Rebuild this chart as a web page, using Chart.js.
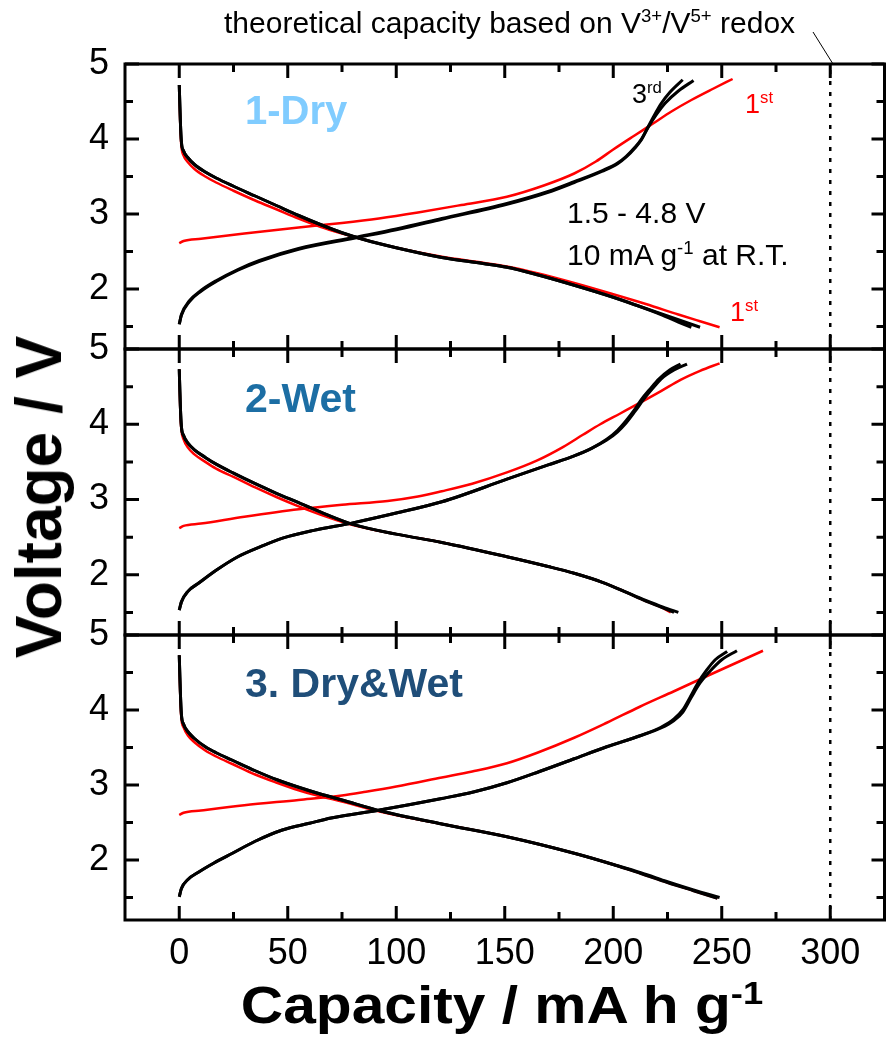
<!DOCTYPE html>
<html>
<head>
<meta charset="utf-8">
<script src="https://cdn.jsdelivr.net/npm/chart.js@4.4.1/dist/chart.umd.min.js"></script>
<style>
  body { margin: 0; background: #fff; width: 886px; height: 1043px; overflow: hidden; position: relative;
         font-family: "Liberation Sans", Arial, sans-serif; }
  .panel { position: absolute; left: 0; width: 886px; }
  .txt { position: absolute; white-space: nowrap; line-height: 1; }
  sup { font-size: 0.62em; vertical-align: 0.6em; line-height: 0; }
</style>
</head>
<body>

<div class="panel" id="p1" style="top:34px;height:345px"><canvas id="c1"></canvas></div>
<div class="panel" id="p2" style="top:319px;height:346px"><canvas id="c2"></canvas></div>
<div class="panel" id="p3" style="top:605px;height:375px"><canvas id="c3"></canvas></div>

<div class="txt" style="left:224px;top:8px;font-size:30px">theoretical capacity based on V<sup>3+</sup>/V<sup>5+</sup> redox</div>
<svg style="position:absolute;left:0;top:0" width="886" height="80"><line x1="813" y1="32" x2="833" y2="64" stroke="#000" stroke-width="1"/></svg>

<div class="txt" style="left:245px;top:90px;font-size:40px;font-weight:bold;color:#80ccff">1-Dry</div>
<div class="txt" style="left:245px;top:378px;font-size:41px;font-weight:bold;color:#1c6ea4">2-Wet</div>
<div class="txt" style="left:245px;top:663px;font-size:41px;font-weight:bold;color:#1f4e79">3. Dry&amp;Wet</div>

<div class="txt" style="left:632px;top:81px;font-size:27px">3<sup>rd</sup></div>
<div class="txt" style="left:745px;top:91px;font-size:27px;color:#ff0000">1<sup>st</sup></div>
<div class="txt" style="left:730px;top:299px;font-size:27px;color:#ff0000">1<sup>st</sup></div>
<div class="txt" style="left:567px;top:198px;font-size:30px">1.5 - 4.8 V</div>
<div class="txt" style="left:567px;top:240px;font-size:30px">10 mA g<sup>-1</sup> at R.T.</div>

<div class="txt" style="left:39px;top:497px;font-size:64px;font-weight:bold;transform:translate(-50%,-50%) rotate(-90deg)">Voltage / V</div>
<div class="txt" style="left:502px;top:1005px;font-size:51px;font-weight:bold;transform:translate(-50%,-50%) scaleX(1.15)">Capacity / mA h g<sup>-1</sup></div>

<script>
// axes
const xMin = -25, xMax = 325;
const yMin = 1.2, yMax = 5;
const xTickLabels = [0, 50, 100, 150, 200, 250, 300];
const xMinorTicks = [25, 75, 125, 175, 225, 275];
const yTickLabels = [2, 3, 4, 5];
const yMinorTicks = [1.5, 2.5, 3.5, 4.5];
const theoreticalCap = 300;

// ---- panel 1: 1-Dry ----
const dryCh1Cap = [0, 2, 10, 30, 55, 75, 92, 110, 130, 151, 168, 182, 192, 200, 210, 218, 227, 236, 246, 255];
const dryCh1V   = [2.61, 2.64, 2.67, 2.74, 2.82, 2.88, 2.94, 3.02, 3.12, 3.23, 3.38, 3.54, 3.70, 3.86, 4.05, 4.20, 4.37, 4.52, 4.67, 4.80];
const dryDis1Cap = [0, 0.5, 1, 2, 4, 7, 12, 17, 25, 35, 45, 55, 65, 75, 85, 100, 121, 140, 151, 165, 182, 200, 215, 230, 240, 249];
const dryDis1V   = [4.72, 4.15, 3.90, 3.78, 3.69, 3.60, 3.50, 3.42, 3.31, 3.18, 3.06, 2.94, 2.83, 2.74, 2.66, 2.55, 2.43, 2.35, 2.30, 2.21, 2.08, 1.93, 1.80, 1.66, 1.57, 1.49];
const dryCh2Cap = [0, 1, 4.6, 10, 17, 27, 37, 55, 81, 100, 121, 151, 170, 182, 195, 202, 206, 210, 213, 216, 219, 222, 226, 232];
const dryCh2V   = [1.53, 1.66, 1.84, 1.98, 2.11, 2.26, 2.38, 2.54, 2.69, 2.80, 2.94, 3.14, 3.30, 3.43, 3.58, 3.68, 3.77, 3.89, 4.00, 4.16, 4.32, 4.47, 4.62, 4.79];
const dryCh3Cap = [0, 1, 4.6, 10, 17, 27, 37, 55, 81, 100, 121, 151, 170, 182, 195, 202, 206, 210, 213, 216, 220, 224, 230, 237];
const dryCh3V   = [1.53, 1.65, 1.83, 1.97, 2.10, 2.25, 2.37, 2.53, 2.68, 2.79, 2.93, 3.13, 3.29, 3.42, 3.57, 3.67, 3.76, 3.88, 3.99, 4.15, 4.33, 4.48, 4.64, 4.78];
const dryDis2Cap = [0, 0.5, 1, 2, 4, 7, 12, 17, 25, 35, 45, 55, 65, 75, 85, 100, 121, 140, 151, 165, 182, 200, 211, 222, 230, 236];
const dryDis2V   = [4.72, 4.25, 3.96, 3.84, 3.75, 3.66, 3.56, 3.48, 3.37, 3.24, 3.11, 2.98, 2.86, 2.75, 2.66, 2.55, 2.42, 2.34, 2.29, 2.19, 2.05, 1.89, 1.78, 1.66, 1.56, 1.49];
const dryDis3Cap = [0, 0.5, 1, 2, 4, 7, 12, 17, 25, 35, 45, 55, 65, 75, 85, 100, 121, 140, 151, 165, 182, 200, 211, 222, 233, 240];
const dryDis3V   = [4.72, 4.25, 3.96, 3.84, 3.75, 3.66, 3.56, 3.48, 3.37, 3.24, 3.11, 2.98, 2.86, 2.75, 2.66, 2.55, 2.42, 2.34, 2.29, 2.19, 2.05, 1.89, 1.78, 1.67, 1.56, 1.49];

// ---- panel 2: 2-Wet ----
const wetCh1Cap = [0, 2, 10, 30, 55, 75, 96, 110, 121, 135, 151, 165, 177, 186, 194, 203, 212, 222, 231, 240, 249];
const wetCh1V   = [2.62, 2.65, 2.68, 2.77, 2.87, 2.93, 2.98, 3.04, 3.11, 3.21, 3.36, 3.52, 3.70, 3.86, 4.00, 4.14, 4.28, 4.44, 4.59, 4.71, 4.81];
const wetDis1Cap = [0, 0.5, 1, 2, 4, 7, 12, 17, 25, 35, 45, 55, 68, 80, 100, 121, 151, 170, 182, 195, 205, 215, 222, 226.5];
const wetDis1V   = [4.73, 4.15, 3.92, 3.80, 3.69, 3.60, 3.50, 3.41, 3.30, 3.16, 3.03, 2.91, 2.77, 2.66, 2.54, 2.43, 2.24, 2.11, 2.02, 1.90, 1.78, 1.65, 1.57, 1.50];
const wetCh2Cap = [0, 1, 4, 9, 17, 27, 38, 48, 62, 80, 100, 121, 151, 170, 182, 190, 197, 202, 206, 210, 213, 217, 221, 226, 231];
const wetCh2V   = [1.53, 1.64, 1.78, 1.89, 2.06, 2.24, 2.38, 2.49, 2.59, 2.69, 2.82, 2.97, 3.27, 3.46, 3.58, 3.68, 3.80, 3.92, 4.05, 4.20, 4.33, 4.47, 4.60, 4.72, 4.80];
const wetCh3Cap = [0, 1, 4, 9, 17, 27, 38, 48, 62, 80, 100, 121, 151, 170, 182, 190, 197, 202, 206, 210, 214, 218, 222, 228, 234];
const wetCh3V   = [1.53, 1.64, 1.78, 1.89, 2.06, 2.24, 2.38, 2.49, 2.59, 2.69, 2.82, 2.97, 3.27, 3.46, 3.58, 3.68, 3.79, 3.90, 4.02, 4.17, 4.33, 4.47, 4.60, 4.72, 4.80];
const wetDis2Cap = [0, 0.5, 1, 2, 4, 7, 12, 17, 25, 35, 45, 55, 68, 80, 100, 121, 151, 170, 182, 195, 205, 215, 222, 228];
const wetDis2V   = [4.73, 4.25, 3.97, 3.85, 3.75, 3.66, 3.56, 3.47, 3.35, 3.21, 3.08, 2.96, 2.80, 2.67, 2.54, 2.43, 2.24, 2.11, 2.02, 1.90, 1.78, 1.65, 1.57, 1.50];
const wetDis3Cap = [0, 0.5, 1, 2, 4, 7, 12, 17, 25, 35, 45, 55, 68, 80, 100, 121, 151, 170, 182, 195, 205, 215, 223, 230];
const wetDis3V   = [4.73, 4.25, 3.97, 3.85, 3.75, 3.66, 3.56, 3.47, 3.35, 3.21, 3.08, 2.96, 2.80, 2.67, 2.54, 2.43, 2.24, 2.11, 2.02, 1.90, 1.78, 1.66, 1.57, 1.50];

// ---- panel 3: 3. Dry&Wet ----
const dwCh1Cap = [0, 2, 10, 30, 55, 75, 86, 100, 121, 135, 151, 165, 182, 197, 212, 228, 243, 256, 269];
const dwCh1V   = [2.60, 2.63, 2.66, 2.73, 2.80, 2.86, 2.91, 2.98, 3.10, 3.18, 3.29, 3.43, 3.63, 3.83, 4.04, 4.25, 4.45, 4.62, 4.79];
const dwDis1Cap = [0, 0.5, 1, 2, 4, 7, 12, 17, 24.5, 35, 45, 55, 65, 75, 93.4, 121, 151, 182, 200, 212.7, 225, 237, 248];
const dwDis1V   = [4.73, 4.15, 3.88, 3.77, 3.66, 3.57, 3.46, 3.38, 3.28, 3.14, 3.03, 2.93, 2.85, 2.78, 2.64, 2.48, 2.31, 2.09, 1.94, 1.82, 1.70, 1.59, 1.49];
const dwCh2Cap = [0, 1, 4, 9, 16, 24.5, 35, 47.5, 60, 70, 93, 121, 136, 151, 166, 182, 197, 212.7, 222, 228, 232, 235.6, 239, 243, 247, 252.5];
const dwCh2V   = [1.51, 1.62, 1.74, 1.84, 1.96, 2.09, 2.25, 2.40, 2.49, 2.56, 2.67, 2.82, 2.91, 3.03, 3.18, 3.35, 3.51, 3.66, 3.77, 3.88, 4.00, 4.18, 4.36, 4.53, 4.67, 4.78];
const dwCh3Cap = [0, 1, 4, 9, 16, 24.5, 35, 47.5, 60, 70, 93, 121, 136, 151, 166, 182, 197, 212.7, 222, 228, 232, 236, 240, 245, 250, 257];
const dwCh3V   = [1.51, 1.62, 1.74, 1.84, 1.96, 2.09, 2.25, 2.40, 2.49, 2.56, 2.67, 2.82, 2.91, 3.03, 3.18, 3.35, 3.51, 3.66, 3.76, 3.86, 3.97, 4.17, 4.36, 4.53, 4.67, 4.79];
const dwDis2Cap = [0, 0.5, 1, 2, 4, 7, 12, 17, 24.5, 35, 45, 55, 65, 75, 93.4, 121, 151, 182, 200, 212.7, 225, 237, 248];
const dwDis2V   = [4.73, 4.25, 3.94, 3.81, 3.71, 3.62, 3.51, 3.43, 3.33, 3.19, 3.07, 2.97, 2.88, 2.80, 2.65, 2.48, 2.31, 2.09, 1.94, 1.82, 1.70, 1.59, 1.49];
const dwDis3Cap = [0, 0.5, 1, 2, 4, 7, 12, 17, 24.5, 35, 45, 55, 65, 75, 93.4, 121, 151, 182, 200, 212.7, 225, 237, 249];
const dwDis3V   = [4.73, 4.25, 3.94, 3.81, 3.71, 3.62, 3.51, 3.43, 3.33, 3.19, 3.07, 2.97, 2.88, 2.80, 2.65, 2.48, 2.31, 2.09, 1.94, 1.83, 1.71, 1.60, 1.50];

const pts = (xs, ys) => xs.map((x, i) => ({x: x, y: ys[i]}));

function curve(xs, ys, color, width) {
  return {
    data: pts(xs, ys), borderColor: color, borderWidth: width, showLine: true,
    pointRadius: 0, cubicInterpolationMode: 'monotone', fill: false
  };
}

// inward ticks and box on all four sides
const framePlugin = {
  id: 'frame',
  afterDatasetsDraw(chart) {
    const {ctx, chartArea: a, scales} = chart;
    const x = scales.x, y = scales.y;
    ctx.save();
    ctx.strokeStyle = '#000';
    ctx.lineWidth = 3;
    ctx.beginPath();
    yTickLabels.forEach(v => {
      const p = y.getPixelForValue(v);
      ctx.moveTo(a.left, p); ctx.lineTo(a.left + 14, p);
      ctx.moveTo(a.right, p); ctx.lineTo(a.right - 13, p);
    });
    yMinorTicks.forEach(v => {
      const p = y.getPixelForValue(v);
      ctx.moveTo(a.left, p); ctx.lineTo(a.left + 8, p);
      ctx.moveTo(a.right, p); ctx.lineTo(a.right - 8, p);
    });
    xTickLabels.forEach(v => {
      const p = x.getPixelForValue(v);
      ctx.moveTo(p, a.top); ctx.lineTo(p, a.top + 14);
      ctx.moveTo(p, a.bottom); ctx.lineTo(p, a.bottom - 14);
    });
    xMinorTicks.forEach(v => {
      const p = x.getPixelForValue(v);
      ctx.moveTo(p, a.top); ctx.lineTo(p, a.top + 8);
      ctx.moveTo(p, a.bottom); ctx.lineTo(p, a.bottom - 8);
    });
    ctx.stroke();
    ctx.strokeRect(a.left, a.top, a.right - a.left, a.bottom - a.top);
    ctx.restore();
  }
};

const tickFont = {family: '"Liberation Sans", Arial, sans-serif', size: 36};

function makePanel(id, sets, showX) {
  const theo = {
    data: [{x: theoreticalCap, y: yMin}, {x: theoreticalCap, y: yMax}],
    borderColor: '#000', borderWidth: 2.5, borderDash: [4, 7], showLine: true, pointRadius: 0
  };
  const datasets = [
    curve(sets.dis2[0], sets.dis2[1], '#000', 3),
    curve(sets.dis3[0], sets.dis3[1], '#000', 3),
    curve(sets.ch2[0], sets.ch2[1], '#000', 3),
    curve(sets.ch3[0], sets.ch3[1], '#000', 3),
    curve(sets.ch1[0], sets.ch1[1], '#ff0000', 2.5),
    curve(sets.dis1[0], sets.dis1[1], '#ff0000', 2.5),
    theo
  ];
  return new Chart(document.getElementById(id), {
    type: 'scatter',
    data: {datasets: datasets},
    plugins: [framePlugin],
    options: {
      responsive: true,
      maintainAspectRatio: false,
      animation: false,
      layout: {padding: {top: 30, bottom: showX ? 0 : 30, left: 0, right: 1.5}},
      plugins: {legend: {display: false}, tooltip: {enabled: false}},
      scales: {
        x: {
          type: 'linear', min: xMin, max: xMax,
          display: showX,
          grid: {display: false, drawTicks: false},
          border: {display: false},
          afterBuildTicks: s => { s.ticks = xTickLabels.map(v => ({value: v})); },
          afterFit: s => {
            if (!showX) return;
            s.height = 60; s.paddingLeft = 0; s.paddingRight = 0;
          },
          ticks: {color: '#000', font: tickFont, padding: 12, maxRotation: 0}
        },
        y: {
          type: 'linear', min: yMin, max: yMax,
          grid: {display: false, drawTicks: false},
          border: {display: false},
          afterBuildTicks: s => { s.ticks = yTickLabels.map(v => ({value: v})); },
          afterFit: s => { s.width = 125; s.paddingTop = 0; s.paddingBottom = 0; },
          ticks: {color: '#000', font: tickFont, padding: 16}
        }
      }
    }
  });
}

makePanel('c1', {
  ch1: [dryCh1Cap, dryCh1V], dis1: [dryDis1Cap, dryDis1V],
  ch2: [dryCh2Cap, dryCh2V], ch3: [dryCh3Cap, dryCh3V],
  dis2: [dryDis2Cap, dryDis2V], dis3: [dryDis3Cap, dryDis3V]
}, false);
makePanel('c2', {
  ch1: [wetCh1Cap, wetCh1V], dis1: [wetDis1Cap, wetDis1V],
  ch2: [wetCh2Cap, wetCh2V], ch3: [wetCh3Cap, wetCh3V],
  dis2: [wetDis2Cap, wetDis2V], dis3: [wetDis3Cap, wetDis3V]
}, false);
makePanel('c3', {
  ch1: [dwCh1Cap, dwCh1V], dis1: [dwDis1Cap, dwDis1V],
  ch2: [dwCh2Cap, dwCh2V], ch3: [dwCh3Cap, dwCh3V],
  dis2: [dwDis2Cap, dwDis2V], dis3: [dwDis3Cap, dwDis3V]
}, true);
</script>
</body>
</html>
